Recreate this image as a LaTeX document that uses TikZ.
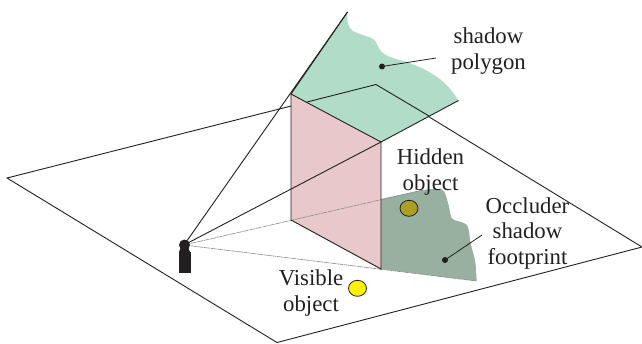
\documentclass[tikz,border=0pt]{standalone}
\usepackage{fontspec}
\setmainfont{Liberation Serif}
\usetikzlibrary{shapes.geometric}
\definecolor{pinkf}{HTML}{E8C8CB}
\definecolor{greenf}{HTML}{B0DCC8}
\definecolor{footf}{HTML}{97B0A0}
\definecolor{ink}{HTML}{231F20}
\tikzset{
  edge/.style={draw=ink,line width=0.9pt},
  faint/.style={draw=black!45,line width=0.6pt,dash pattern=on 6pt off 0.7pt},
  lbl/.style={text=ink,align=center,inner sep=0pt,font=\fontsize{22.8}{25.5}\selectfont},
  leader/.style={draw=ink,line width=0.8pt},
  dotend/.style={circle,fill=ink,inner sep=0pt,minimum size=6pt},
  obj/.style={ellipse,draw=ink,line width=0.8pt,inner sep=0pt,minimum width=18pt,minimum height=16pt}
}
\begin{document}
\begin{tikzpicture}[x=1pt,y=-1pt]
\useasboundingbox (0,0) rectangle (642,343);
\fill[white] (0,0) rectangle (642,343);
\coordinate (gl) at (7,178);
\coordinate (gt) at (376,84.5);
\coordinate (gr) at (642,247);
\coordinate (gb) at (277,342.5);
\coordinate (eye) at (184,245);
\coordinate (pa) at (291,94);
\coordinate (pb) at (381,142);
\coordinate (pc) at (381,269);
\coordinate (pd) at (291,220);
\coordinate (tip) at (347.5,12);
\coordinate (gs) at (458.5,100.5);
\coordinate (fa) at (423,190);
\coordinate (fb) at (476.7,281);
% ground
\draw[edge] (gb) -- (gl) -- (gt) -- (gr) -- cycle;
% footprint
\fill[footf] (pc) -- (fb) .. controls (476,272) and (476,266) .. (475,260) .. controls (473,252) and (471,246) .. (470,240) .. controls (469,232) and (469,228) .. (466.7,225) .. controls (461,220) and (454,222) .. (451.7,218) .. controls (449,212) and (450,208) .. (448,203) .. controls (446,196) and (445,190) .. (441,189) .. controls (435,188.5) and (429,189) .. (fa) -- (381,199) -- cycle;
% shadow polygon
\fill[greenf] (pa) -- (tip) .. controls (347,22) and (348,28) .. (353,31) .. controls (362,36) and (372,36) .. (376,42) .. controls (379,47) and (378,52) .. (390,57) .. controls (405,62) and (420,65) .. (437,77) .. controls (447,84) and (453,92) .. (gs) -- (pb) -- cycle;
% ground edge over shadow polygon
\draw[edge] (307,102) -- (gt) -- (429,116);
% occluder
\fill[pinkf] (pa) -- (pb) -- (pc) -- (pd) -- cycle;
% rays
\draw[edge] (eye) -- (tip);
\draw[edge] (eye) -- (pb);
\draw[faint] (eye) -- (fa);
\draw[faint] (eye) -- (fb);
\draw[edge] (tip) -- (pa) -- (pb) -- (gs);
\draw[edge] (pa) -- (pd) -- (pc) -- (pb);
% viewer
\fill[ink] (179,252) rectangle (190.5,273);
\fill[ink] (184.5,245) circle (5.5);
\fill[ink] (184.5,252) circle (5.5);
% objects
\node[obj,fill={rgb,255:red,172;green,160;blue,36}] (hid) at (409,208.3) {};
\node[obj,fill=yellow] (vis) at (357.5,288.3) {};
% labels
\node[lbl] (t1) at (488.5,51) {shadow\\polygon};
\node[lbl] (t2) at (430.5,172) {Hidden\\object};
\node[lbl] (t3) at (527.5,233.5) {Occluder\\shadow\\footprint};
\node[lbl] (t4) at (311,293) {Visible\\object};
% leaders
\node[dotend] (d1) at (382,66.5) {};
\node[dotend] (d2) at (445,260) {};
\coordinate (l1) at (436,58);
\coordinate (l2) at (482,235);
\draw[leader] (d1.center) -- (l1);
\draw[leader] (d2.center) -- (l2);
\end{tikzpicture}
\end{document}
